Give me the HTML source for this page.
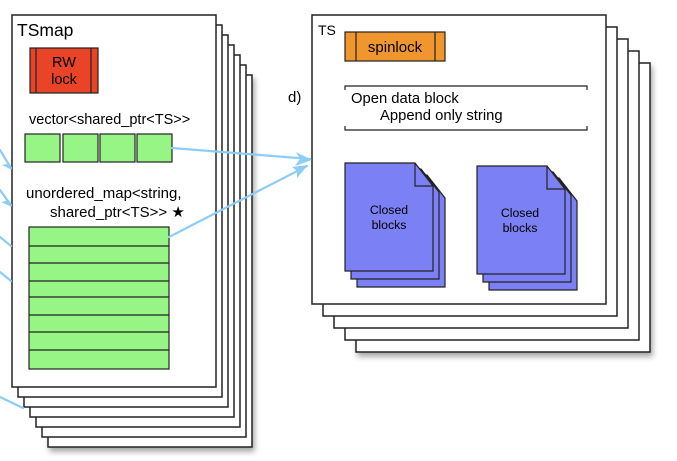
<!DOCTYPE html>
<html><head><meta charset="utf-8"><style>
body{margin:0;background:#fff;}
svg{display:block;font-family:"Liberation Sans",sans-serif;}
</style></head><body>
<svg width="677" height="461" viewBox="0 0 677 461" xmlns="http://www.w3.org/2000/svg">
<defs>
<filter id="sh" x="-10%" y="-10%" width="130%" height="130%"><feDropShadow dx="2" dy="4" stdDeviation="3" flood-color="#000" flood-opacity="0.35"/></filter>
</defs>
<g stroke="#222" stroke-width="1.5" fill="#fff">
<rect x="48" y="75" width="204" height="372" filter="url(#sh)"/>
<rect x="42" y="65" width="204" height="372"/>
<rect x="36" y="55" width="204" height="372"/>
<rect x="30" y="45" width="204" height="372"/>
<rect x="24" y="35" width="204" height="372"/>
<rect x="18" y="25" width="204" height="372"/>
<rect x="12" y="15" width="204" height="372"/>
</g>
<g stroke="#222" stroke-width="1.5" fill="#fff">
<rect x="356" y="63" width="294" height="289" filter="url(#sh)"/>
<rect x="345" y="51" width="294" height="289"/>
<rect x="334" y="39" width="294" height="289"/>
<rect x="323" y="27" width="294" height="289"/>
<rect x="312" y="15" width="294" height="289"/>
</g>
<text x="17" y="36" font-size="17.5">TSmap</text>
<rect x="30" y="48" width="68" height="45" fill="#e94427" stroke="#222" stroke-width="1.2"/>
<line x1="36" y1="48" x2="36" y2="93" stroke="#222" stroke-width="1.2"/>
<line x1="91" y1="48" x2="91" y2="93" stroke="#222" stroke-width="1.2"/>
<text x="64" y="67" font-size="14.5" text-anchor="middle">RW</text>
<text x="64" y="84" font-size="14.5" text-anchor="middle">lock</text>
<text x="29" y="124" font-size="14.5">vector&lt;shared_ptr&lt;TS&gt;&gt;</text>
<g fill="#97f586" stroke="#222" stroke-width="1.2">
<rect x="25" y="134" width="35" height="28"/><rect x="63" y="134" width="35" height="28"/>
<rect x="100" y="134" width="35" height="28"/><rect x="137" y="134" width="35" height="28"/>
</g>
<text x="26" y="198" font-size="15">unordered_map&lt;string,</text>
<text x="50" y="217" font-size="15">shared_ptr&lt;TS&gt;&gt; ★</text>
<rect x="29" y="227" width="140" height="142" fill="#97f586" stroke="#222" stroke-width="1.2"/>
<g stroke="#222" stroke-width="1.2">
<line x1="29" y1="246" x2="169" y2="246"/><line x1="29" y1="263" x2="169" y2="263"/>
<line x1="29" y1="281" x2="169" y2="281"/><line x1="29" y1="297" x2="169" y2="297"/>
<line x1="29" y1="315" x2="169" y2="315"/><line x1="29" y1="332" x2="169" y2="332"/>
<line x1="29" y1="350" x2="169" y2="350"/>
</g>
<text x="318" y="35" font-size="14">TS</text>
<rect x="345" y="32" width="100" height="29" fill="#f0962e" stroke="#222" stroke-width="1.2"/>
<line x1="356" y1="32" x2="356" y2="61" stroke="#222" stroke-width="1.2"/>
<line x1="435" y1="32" x2="435" y2="61" stroke="#222" stroke-width="1.2"/>
<text x="395" y="52" font-size="15" text-anchor="middle">spinlock</text>
<path d="M345,90 V86 H587 V90 M345,126 V130 H587 V126" fill="none" stroke="#222" stroke-width="1.2"/>
<text x="351" y="103" font-size="14.8">Open data block</text>
<text x="380" y="120" font-size="14.8">Append only string</text>
<text x="288" y="102" font-size="15">d)</text>
<g fill="#7b80f5" stroke="#222" stroke-width="1.2">
<path d="M357,175 H427 L445,198 V287 H357 Z"/>
<path d="M351,169 H421 L439,192 V279 H351 Z"/>
<path d="M345,163 H415 L433,186 V271 H345 Z"/>
<path d="M415,163 V186 H433" fill="none"/>
<path d="M489,178 H559 L577,201 V290 H489 Z"/>
<path d="M483,172 H553 L571,195 V282 H483 Z"/>
<path d="M477,166 H547 L565,189 V274 H477 Z"/>
<path d="M547,166 V189 H565" fill="none"/>
</g>
<text x="389" y="214" font-size="12.3" text-anchor="middle">Closed</text>
<text x="389" y="229" font-size="12.3" text-anchor="middle">blocks</text>
<text x="520" y="217" font-size="12.3" text-anchor="middle">Closed</text>
<text x="520" y="232" font-size="12.3" text-anchor="middle">blocks</text>
<g stroke="#8dcdf5" stroke-width="2.2" fill="none" stroke-linecap="round">
<line x1="172" y1="148" x2="310" y2="159"/>
<line x1="169" y1="237" x2="307" y2="166"/>
<line x1="0" y1="150" x2="11" y2="168"/>
<line x1="0" y1="190" x2="11" y2="205"/>
<line x1="0" y1="237" x2="11" y2="246"/>
<line x1="0" y1="272" x2="11" y2="281"/>
<line x1="0" y1="397" x2="23" y2="408"/>
</g>
<g fill="#8dcdf5">
<path d="M312,160 L296,152 L300,159 L295,166 Z"/>
<path d="M308,165 L292,167 L297,171 L297,178 Z"/>
<path d="M12,170 L4,160 L7,164 L2,165 Z"/>
<path d="M12,207 L4,197 L6,201 L1,202 Z"/>
</g>
</svg>
</body></html>
